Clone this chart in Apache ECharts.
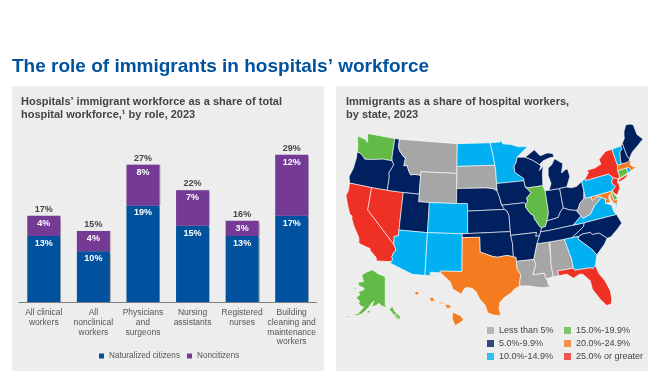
<!DOCTYPE html>
<html>
<head>
<meta charset="utf-8">
<style>html,body{margin:0;padding:0;background:#fff}#chart{width:660px;height:371px}</style>
<script src="https://cdn.jsdelivr.net/npm/echarts@6/dist/echarts.min.js"></script>
</head>
<body>
<div id="chart"></div>
<script>
// bar panel data
var roles = ['All clinical\nworkers', 'All\nnonclinical\nworkers', 'Physicians\nand\nsurgeons', 'Nursing\nassistants', 'Registered\nnurses', 'Building\ncleaning and\nmaintenance\nworkers'];
var naturalized = [13, 10, 19, 15, 13, 17];
var noncitizens = [4, 4, 8, 7, 3, 12];
var totals = [17, 15, 27, 22, 16, 29];

// map panel data, states per share bracket
var brackets = ['Less than 5%', '5.0%-9.9%', '10.0%-14.9%', '15.0%-19.9%', '20.0%-24.9%', '25.0% or greater'];
var bracketColors = ['#a6a6a6', '#002060', '#00b0f0', '#62bb46', '#f47b20', '#ee3124'];
var lessThan5 = ['MT', 'WY', 'SD', 'WV', 'MS', 'AL', 'LA'];
var from5to10 = ['OR', 'ID', 'UT', 'NE', 'KS', 'OK', 'MO', 'IA', 'WI', 'MI', 'IN', 'OH', 'KY', 'TN', 'NC', 'SC', 'AR', 'ME', 'NH'];
var from10to15 = ['ND', 'MN', 'CO', 'AZ', 'NM', 'PA', 'VA', 'GA', 'VT', 'RI', 'DC'];
var from15to20 = ['WA', 'IL', 'AK', 'CT', 'DE'];
var from20to25 = ['TX', 'HI', 'MA', 'MD'];
var from25up = ['CA', 'NV', 'NY', 'NJ', 'FL'];
var bracketStates = [lessThan5, from5to10, from10to15, from15to20, from20to25, from25up];

// rough state outlines, lon lat pairs, '|' starts another polygon
var stateShapes = {
  WA: '-124.7 48.4 -123.1 48.15 -122.75 48.15 -122.6 47.8 -122.4 48 -122.8 49 -117.03 49 -117.04 46.42 -116.92 45.99 -118.98 46 -119.3 45.93 -121.2 45.65 -122.3 45.55 -122.8 45.9 -123.4 46.2 -124.05 46.27 -124.1 46.9',
  OR: '-124.05 46.27 -123.4 46.2 -122.8 45.9 -122.3 45.55 -121.2 45.65 -119.3 45.93 -118.98 46 -116.92 45.99 -116.5 45.5 -116.85 44.9 -117.2 44.4 -117.03 43.8 -117.03 42 -120 42 -124.2 42 -124.55 42.85 -124.1 44 -123.95 45.5',
  CA: '-124.2 42 -120 42 -120 39 -114.6 35 -114.13 34.3 -114.45 34 -114.72 33.4 -114.52 33 -114.72 32.72 -117.12 32.53 -117.3 33 -118.4 33.75 -118.5 34.03 -119.2 34.15 -120.5 34.45 -120.65 35.15 -121.9 36.6 -122.5 37.5 -122.5 37.8 -123 38 -123.8 39.3 -124.35 40.3 -124.1 41',
  NV: '-120 42 -117.03 42 -114.04 42 -114.04 36.2 -114.75 36.1 -114.6 35 -120 39',
  ID: '-117.03 49 -116.05 49 -116.05 48 -115.7 47.45 -114.7 46.7 -114.35 46.65 -114.5 45.55 -113.9 45.65 -113.45 44.95 -113 44.45 -112.3 44.55 -111.5 44.55 -111.05 44.47 -111.05 42 -114.04 42 -117.03 42 -117.03 43.8 -117.2 44.4 -116.85 44.9 -116.5 45.5 -116.92 45.99 -117.04 46.42',
  MT: '-116.05 49 -104.05 49 -104.05 45.94 -104.05 45 -111.05 45 -111.05 44.47 -111.5 44.55 -112.3 44.55 -113 44.45 -113.45 44.95 -113.9 45.65 -114.5 45.55 -114.35 46.65 -114.7 46.7 -115.7 47.45 -116.05 48',
  WY: '-111.05 45 -104.05 45 -104.05 43 -104.05 41 -109.05 41 -111.05 41',
  UT: '-114.04 42 -111.05 42 -111.05 41 -109.05 41 -109.05 37 -114.04 37',
  CO: '-109.05 41 -104.05 41 -102.05 41 -102.05 40 -102.05 37 -103 37 -109.05 37',
  AZ: '-114.04 37 -109.05 37 -109.05 31.33 -111.07 31.33 -114.82 32.5 -114.72 32.72 -114.52 33 -114.72 33.4 -114.45 34 -114.13 34.3 -114.6 35 -114.75 36.1 -114.04 36.2',
  NM: '-109.05 37 -103 37 -103 36.5 -103.04 32 -106.62 32 -106.53 31.78 -108.2 31.78 -108.2 31.33 -109.05 31.33',
  ND: '-104.05 49 -97.23 49 -96.85 47.6 -96.56 45.94 -104.05 45.94',
  SD: '-104.05 45.94 -96.56 45.94 -96.45 45.3 -96.45 43.5 -96.44 42.49 -97.2 42.85 -98.5 43 -104.05 43 -104.05 45',
  NE: '-104.05 43 -98.5 43 -97.2 42.85 -96.44 42.49 -96.1 41.7 -95.85 40.7 -95.77 40.58 -95.31 40 -102.05 40 -102.05 41 -104.05 41',
  KS: '-102.05 40 -95.31 40 -94.9 39.75 -94.61 39.1 -94.62 37 -103 37 -102.05 37',
  OK: '-103 37 -94.62 37 -94.62 36.5 -94.43 35.4 -94.48 33.64 -95.5 33.9 -97.1 33.75 -97.95 33.9 -99.2 34.3 -100 34.56 -100 36.5 -103 36.5',
  TX: '-103 36.5 -100 36.5 -100 34.56 -99.2 34.3 -97.95 33.9 -97.1 33.75 -95.5 33.9 -94.48 33.64 -94.04 33.55 -94.04 33 -94.04 32 -93.55 31.2 -93.85 30.1 -93.85 29.7 -94.7 29.4 -95.3 28.9 -96.4 28.35 -97.2 27.7 -97.35 26.9 -97.15 25.96 -98.2 26.05 -99.1 26.4 -99.5 27.5 -100.3 28.3 -100.8 29.25 -101.4 29.77 -102.3 29.88 -102.7 29.7 -103.15 28.98 -104.5 29.65 -104.9 30.6 -106.53 31.78 -106.62 32 -103.04 32',
  MN: '-97.23 49 -95.15 49 -95.15 49.38 -94.6 48.72 -93 48.55 -91.5 48.1 -89.6 48 -92 46.75 -92.3 46.1 -92.8 45.6 -92.75 44.75 -91.25 43.85 -91.22 43.5 -96.45 43.5 -96.45 45.3 -96.56 45.94 -96.85 47.6',
  IA: '-96.45 43.5 -91.22 43.5 -91.1 42.7 -90.15 41.8 -91.1 41.2 -91 40.7 -91.42 40.38 -91.73 40.61 -95.77 40.58 -95.85 40.7 -96.1 41.7 -96.44 42.49',
  MO: '-95.77 40.58 -91.73 40.61 -91.42 40.38 -91.5 40 -90.7 39 -90.2 38.8 -90.2 38.4 -89.5 37.3 -89.15 37 -89.4 36.5 -89.7 36 -90.37 36 -90.15 36.5 -94.62 36.5 -94.62 37 -94.61 39.1 -94.9 39.75 -95.31 40',
  AR: '-94.62 36.5 -90.15 36.5 -90.37 36 -89.7 36 -90.3 35 -91.15 33 -94.04 33 -94.04 33.55 -94.48 33.64 -94.43 35.4',
  LA: '-94.04 33 -91.15 33 -90.9 32.3 -91.6 31 -89.73 31 -89.6 30.2 -89.4 30 -89.4 29.5 -89.1 29.1 -90.2 29.1 -91.3 29.3 -92.3 29.55 -93.85 29.7 -93.85 30.1 -93.55 31.2 -94.04 32',
  MS: '-91.15 33 -90.3 35 -88.2 35 -88.1 34.9 -88.47 31.9 -88.4 30.37 -89.6 30.2 -89.73 31 -91.6 31 -90.9 32.3',
  AL: '-88.2 35 -85.6 35 -85.15 32.85 -85 32.3 -85 31 -87.6 31 -87.45 30.35 -88.4 30.37 -88.47 31.9 -88.1 34.9',
  WI: '-92 46.75 -90.4 46.6 -89.1 46.1 -87.8 45.35 -87.6 45.1 -88 44.55 -87.4 44.9 -87.05 45.25 -87.5 44.2 -87.8 42.5 -90.65 42.5 -91.1 42.7 -91.22 43.5 -91.25 43.85 -92.75 44.75 -92.8 45.6 -92.3 46.1',
  IL: '-90.65 42.5 -87.8 42.5 -87.53 41.7 -87.53 39.3 -87.6 38.7 -88.05 37.8 -88.45 37.1 -89.15 37 -89.5 37.3 -90.2 38.4 -90.2 38.8 -90.7 39 -91.5 40 -91.42 40.38 -91 40.7 -91.1 41.2 -90.15 41.8 -91.1 42.7',
  IN: '-87.53 41.7 -87.2 41.76 -86.8 41.76 -84.8 41.72 -84.8 39.1 -85.4 38.7 -86 38 -87 37.9 -88.05 37.8 -87.6 38.7 -87.53 39.3',
  MI: '-86.8 41.76 -84.8 41.72 -83.45 41.73 -83.1 42.2 -82.5 43 -82.6 44 -83 44.05 -83.9 43.7 -83.3 44.9 -84.7 45.75 -85.5 45 -86.25 44.7 -86.5 43.7 -86.2 42.6|-90.4 46.6 -89.1 46.1 -87.8 45.35 -87 45.75 -85.6 46 -84.7 46 -84.9 46.5 -85.9 46.7 -87.4 46.5 -88.4 47.4',
  OH: '-84.8 41.72 -83.45 41.73 -82.7 41.5 -81.7 41.5 -80.52 41.98 -80.52 40.64 -80.85 39.7 -81.7 39.25 -82.2 38.6 -82.6 38.42 -83.7 38.65 -84.8 39.1',
  KY: '-84.8 39.1 -83.7 38.65 -82.6 38.42 -82 37.55 -83.7 36.6 -88.05 36.5 -89.4 36.5 -89.15 37 -88.45 37.1 -88.05 37.8 -87 37.9 -86 38 -85.4 38.7',
  TN: '-90.3 35 -89.7 36 -89.4 36.5 -88.05 36.5 -83.7 36.6 -81.68 36.59 -82 36.1 -84.3 35 -85.6 35 -88.2 35',
  WV: '-82.6 38.42 -82.2 38.6 -81.7 39.25 -80.85 39.7 -80.52 40.64 -80.52 39.72 -79.48 39.72 -79.48 39.2 -78.4 39.6 -77.72 39.32 -78.35 38.9 -79.3 38.42 -80.3 37.5 -81.7 37.2 -82 37.55',
  VA: '-83.7 36.6 -82 37.55 -81.7 37.2 -80.3 37.5 -79.3 38.42 -78.35 38.9 -77.72 39.32 -77.1 38.9 -77.3 38.4 -76.3 37.9 -76.3 37 -75.95 36.55 -81.68 36.59|-75.95 37.15 -75.6 37.95 -75.25 38.03 -75.9 37.1',
  MD: '-79.48 39.72 -75.79 39.72 -75.7 38.46 -75.05 38.45 -75.25 38.03 -75.6 37.95 -75.95 38.2 -76.2 38.8 -76.1 39.4 -76.5 39 -76.4 38.3 -77.3 38.4 -77.1 38.9 -77.72 39.32 -78.4 39.6 -79.48 39.2',
  DE: '-75.79 39.72 -75.4 39.8 -75.55 39.5 -75.1 38.8 -75.05 38.45 -75.7 38.46',
  DC: '-77.12 38.93 -77.04 39 -76.91 38.9 -77.04 38.79',
  PA: '-80.52 41.98 -79.76 42.27 -79.76 42 -75.35 42 -74.7 41.36 -75.13 40.98 -75.2 40.65 -74.72 40.15 -75.4 39.8 -75.79 39.72 -79.48 39.72 -80.52 39.72 -80.52 40.64',
  NJ: '-74.7 41.36 -73.9 41 -74.25 40.5 -74 40.45 -74.1 39.75 -74.9 38.95 -75.5 39.5 -75.4 39.8 -74.72 40.15 -75.2 40.65 -75.13 40.98',
  NY: '-79.76 42 -75.35 42 -74.7 41.36 -73.9 41 -73.65 41 -73.5 41.3 -73.5 42.05 -73.26 42.75 -73.35 45 -74.7 45 -76.3 44.2 -76.2 43.55 -77.5 43.27 -79.05 43.27 -78.9 42.9 -79.76 42.27|-74 40.6 -73.7 40.9 -72.3 41.15 -71.9 41.05 -72.8 40.72 -73.9 40.55',
  CT: '-73.5 42.05 -71.8 42.02 -71.85 41.32 -73.65 41 -73.5 41.3',
  RI: '-71.8 42.02 -71.38 42.02 -71.15 41.5 -71.85 41.32',
  MA: '-73.5 42.05 -73.26 42.75 -72.46 42.73 -71.3 42.7 -70.85 42.87 -70.6 42.65 -71 42.3 -70.65 41.95 -70.5 41.78 -70.05 41.78 -70.25 42.07 -69.95 41.85 -69.95 41.67 -70.65 41.55 -71.15 41.5 -71.38 42.02 -71.8 42.02',
  VT: '-73.35 45 -71.5 45.01 -71.5 44.6 -72.05 44.3 -72.45 43.1 -72.46 42.73 -73.26 42.75',
  NH: '-71.5 45.01 -71.08 45.3 -70.98 43.4 -70.7 43.08 -70.85 42.87 -71.3 42.7 -72.46 42.73 -72.45 43.1 -72.05 44.3 -71.5 44.6',
  ME: '-71.08 45.3 -70.4 45.8 -70.25 46.2 -70 46.7 -69.23 47.46 -68.3 47.35 -67.8 47.07 -67.8 45.7 -67 44.85 -68.5 44.25 -69.8 43.75 -70.7 43.08 -70.98 43.4',
  NC: '-84.3 35 -82 36.1 -81.68 36.59 -75.95 36.55 -75.5 35.25 -76.5 34.65 -77.9 33.9 -78.55 33.86 -79.67 34.8 -80.8 34.82 -81.05 35.15 -82.4 35.2 -83.1 35',
  SC: '-83.1 35 -82.4 35.2 -81.05 35.15 -80.8 34.82 -79.67 34.8 -78.55 33.86 -79.2 33.2 -80.85 32.05 -81.5 33 -82.6 34 -83.35 34.7',
  GA: '-85.6 35 -84.3 35 -83.1 35 -83.35 34.7 -82.6 34 -81.5 33 -80.85 32.05 -81.45 30.72 -82.05 30.36 -82.2 30.57 -84.86 30.7 -85 31 -85 32.3 -85.15 32.85',
  FL: '-87.6 31 -85 31 -84.86 30.7 -82.2 30.57 -82.05 30.36 -81.45 30.72 -81.2 29.6 -80.5 28.4 -80.05 26.9 -80.15 25.75 -80.4 25.2 -81.1 25.15 -81.8 26.1 -82.7 27.7 -82.75 28.9 -83.7 29.95 -84.2 30.05 -85.3 29.68 -86.2 30.4 -87.45 30.35',
  AK: '-141 69.65 -141 60.3 -139.8 59.6 -137.5 58.9 -135.5 59.8 -133.8 58 -130 55.9 -131 55.2 -133.5 55.5 -135 57 -136.6 58.2 -139.8 59.5 -144 60 -146 60.8 -148.5 60 -151.8 59.2 -150.5 61.2 -151.9 60.7 -153.3 59.4 -156 57.5 -158.5 56 -161 55.2 -164.8 54.6 -160.5 56 -157.7 58.7 -159 58.5 -162 59 -162 60 -165.3 60.6 -163 62 -165 62.6 -161 64 -161 64.6 -166.3 64.6 -168 65.6 -163 66.5 -166.8 68.3 -162.5 70 -156.6 71.3 -150 70.5|-154.6 57.5 -152.3 58.3 -152.6 57.4 -154 56.9|-169.6 63.7 -167.2 63.3 -168 62.95 -169.4 63.3|-168 53.6 -166.2 54 -166.5 53.4 -167.8 53.3|-134.5 57 -133.5 57.2 -133 56.3 -134 56.2|-133.2 55.9 -131.8 55.8 -132.2 55 -133.2 55.1',
  HI: '-159.8 22.1 -159.4 22.25 -159.3 21.95 -159.6 21.88|-158.25 21.55 -157.95 21.7 -157.65 21.3 -158.1 21.3|-157.3 21.22 -156.7 21.17 -156.75 21.05 -157.25 21.08|-156.7 21 -156.25 20.95 -156 20.75 -156.4 20.58 -156.6 20.8|-155.9 20.25 -155.1 19.9 -154.8 19.5 -155.65 18.95 -155.95 19.6'
};

// conic projection, one for the lower 48 and inset versions for Alaska and Hawaii
function conic(lat1, lat2, lon0, lat0) {
  var rad = Math.PI / 180;
  var n = (Math.sin(lat1 * rad) + Math.sin(lat2 * rad)) / 2;
  var c = Math.pow(Math.cos(lat1 * rad), 2) + 2 * n * Math.sin(lat1 * rad);
  var r0 = Math.sqrt(c - 2 * n * Math.sin(lat0 * rad)) / n;
  return {
    forward: function (lon, lat) {
      var r = Math.sqrt(c - 2 * n * Math.sin(lat * rad)) / n;
      var t = n * (lon - lon0) * rad;
      return [r * Math.sin(t), r * Math.cos(t) - r0];
    },
    inverse: function (x, y) {
      var yy = y + r0;
      var r = Math.sqrt(x * x + yy * yy);
      var lat = Math.asin((c - r * r * n * n) / (2 * n)) / rad;
      return [lon0 + Math.atan2(x, yy) / n / rad, lat];
    }
  };
}
var mainland = conic(29.5, 45.5, -103, 37.5);
var alaska = conic(55, 65, -141, 63);
var hawaii = conic(8, 18, -157.2, 20.7);
var stretchY = 1.03;
var usaProjection = {
  project: function (pt) {
    var p;
    if (pt[0] < -128 && pt[1] > 50) {
      p = alaska.forward(pt[0], pt[1]);
      return [p[0] * 0.345 - 0.185, p[1] * 0.42 + 0.1605];
    }
    if (pt[0] < -150) {
      p = hawaii.forward(pt[0], pt[1]);
      return [p[0] * 1.45 - 0.054, p[1] * 1.45 + 0.186];
    }
    p = mainland.forward(pt[0], pt[1]);
    return [p[0], p[1] * stretchY];
  },
  unproject: function (pt) {
    return mainland.inverse(pt[0], pt[1] / stretchY);
  }
};

function parseRing(text) {
  var nums = text.trim().split(/\s+/).map(Number);
  var ring = [];
  for (var i = 0; i < nums.length; i += 2) ring.push([nums[i], nums[i + 1]]);
  ring.push(ring[0]);
  return [ring];
}
var features = Object.keys(stateShapes).map(function (code) {
  return {
    type: 'Feature',
    properties: { name: code },
    geometry: { type: 'MultiPolygon', coordinates: stateShapes[code].split('|').map(parseRing) }
  };
});
echarts.registerMap('USA', { type: 'FeatureCollection', features: features });

var mapData = [];
bracketStates.forEach(function (states, i) {
  states.forEach(function (code) {
    mapData.push({ name: code, value: i, itemStyle: { areaColor: bracketColors[i] } });
  });
});

var font = '"Liberation Sans", Arial, sans-serif';
var chart = echarts.init(document.getElementById('chart'));

// empty series, only there to give the two map legend columns their entries
var legendSeries = brackets.map(function (name, i) {
  return { name: name, type: 'scatter', data: [], itemStyle: { color: bracketColors[i] } };
});
function mapLegend(left, names) {
  return {
    left: left, top: 326, padding: 0, orient: 'vertical', icon: 'rect', itemWidth: 7, itemHeight: 7, itemGap: 4,
    selectedMode: false, data: names,
    textStyle: { fontFamily: font, fontSize: 9, color: '#444' }
  };
}
var barShadow = { shadowColor: 'rgba(0,0,0,0.25)', shadowBlur: 1, shadowOffsetX: 1, shadowOffsetY: 0 };

chart.setOption({
  animation: false,
  textStyle: { fontFamily: font },
  graphic: [
    { type: 'rect', z: -10, shape: { x: 12, y: 86, width: 312, height: 285 }, style: { fill: '#ededed' } },
    { type: 'rect', z: -10, shape: { x: 336, y: 86, width: 312, height: 285 }, style: { fill: '#ededed' } }
  ],
  title: [
    { text: 'The role of immigrants in hospitals’ workforce', left: 12, top: 57, padding: 0, textStyle: { fontFamily: font, fontSize: 19, fontWeight: 'bold', color: '#00529f' } },
    { text: 'Hospitals’ immigrant workforce as a share of total\nhospital workforce,¹ by role, 2023', left: 21, top: 95, padding: 0, textStyle: { fontFamily: font, fontSize: 11, lineHeight: 13, fontWeight: 'bold', color: '#444' } },
    { text: 'Immigrants as a share of hospital workers,\nby state, 2023', left: 346, top: 95, padding: 0, textStyle: { fontFamily: font, fontSize: 11, lineHeight: 13, fontWeight: 'bold', color: '#444' } }
  ],
  grid: { left: 19, top: 149.6, width: 297.5, height: 152.4 },
  xAxis: {
    type: 'category', data: roles,
    axisTick: { show: false },
    axisLine: { lineStyle: { color: '#7f7f7f', width: 1 } },
    axisLabel: { fontFamily: font, fontSize: 8.5, lineHeight: 9.7, color: '#555', margin: 6, interval: 0 }
  },
  yAxis: { type: 'value', min: 0, max: 30, show: false },
  legend: [
    { left: 99, top: 352, padding: 0, icon: 'rect', itemWidth: 5, itemHeight: 5, itemGap: 7, selectedMode: false, data: ['Naturalized citizens', 'Noncitizens'], textStyle: { fontFamily: font, fontSize: 8.2, color: '#555' } },
    mapLegend(487, brackets.slice(0, 3)),
    mapLegend(564, brackets.slice(3))
  ],
  series: [
    {
      name: 'Naturalized citizens', type: 'bar', stack: 'share', barWidth: 33, data: naturalized,
      itemStyle: Object.assign({ color: '#00529f' }, barShadow),
      label: { show: true, position: 'insideTop', distance: 3, formatter: '{c}%', fontFamily: font, fontSize: 9, fontWeight: 'bold', color: '#fff' }
    },
    {
      name: 'Noncitizens', type: 'bar', stack: 'share', barWidth: 33, data: noncitizens,
      itemStyle: Object.assign({ color: '#753a96' }, barShadow),
      label: { show: true, position: 'insideTop', distance: 3, formatter: '{c}%', fontFamily: font, fontSize: 9, fontWeight: 'bold', color: '#fff' }
    },
    {
      name: 'Total', type: 'bar', stack: 'share', barWidth: 33,
      data: totals.map(function () { return 0; }),
      label: {
        show: true, position: 'top', distance: 2, fontFamily: font, fontSize: 9, fontWeight: 'bold', color: '#444',
        formatter: function (p) { return totals[p.dataIndex] + '%'; }
      }
    },
    {
      type: 'map', map: 'USA', projection: usaProjection, silent: true, roam: false, showLegendSymbol: false,
      left: 346, top: 124, width: 297,
      label: { show: false }, data: mapData,
      itemStyle: { borderColor: '#fff', borderWidth: 0.6, areaColor: '#ccc' }
    }
  ].concat(legendSeries)
});
</script>
</body>
</html>
